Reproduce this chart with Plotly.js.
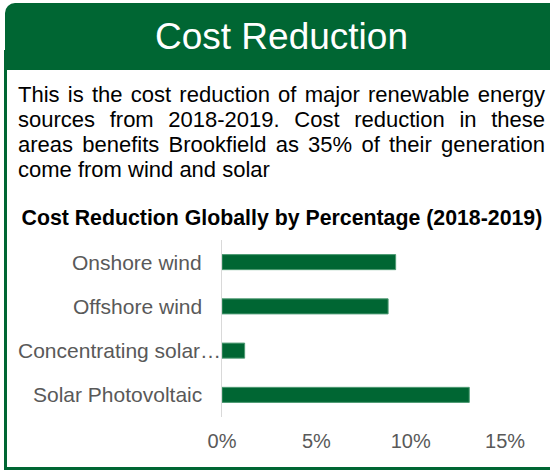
<!DOCTYPE html>
<html>
<head>
<meta charset="utf-8">
<script src="https://cdn.plot.ly/plotly-3.0.1.min.js"></script>
<style>
  html, body { margin: 0; padding: 0; background: #ffffff; }
  #wrap { position: relative; width: 550px; height: 471px; overflow: hidden; font-family: "Liberation Sans", Arial, sans-serif; }
  #frame { position: absolute; left: 4px; top: 50px; width: 560px; height: 417px; border-left: 3px solid #006633; border-bottom: 3px solid #006633; box-sizing: content-box; }
  #header { position: absolute; left: 5px; top: 3px; width: 560px; height: 67px; background: #006633; border-top-left-radius: 10px; }
  #htitle { position: absolute; left: 5px; top: 3px; width: 553px; height: 67px; line-height: 67px; text-align: center; color: #ffffff; font-size: 37px; white-space: nowrap; }
  #para { position: absolute; left: 18px; top: 82px; width: 527px; font-size: 22px; line-height: 25px; text-align: justify; color: #000000; }
  #chart { position: absolute; left: 0; top: 0; width: 550px; height: 471px; }
</style>
</head>
<body>
<div id="wrap">
  <div id="frame"></div>
  <div id="header"></div>
  <div id="htitle">Cost Reduction</div>
  <div id="para">This is the cost reduction of major renewable energy sources from 2018-2019. Cost reduction in these areas benefits Brookfield as 35% of their generation come from wind and solar</div>
  <div id="chart"></div>
</div>
<script>
// Data
const categories = ["Onshore wind", "Offshore wind", "Concentrating solar power", "Solar Photovoltaic"];
const categoryLabels = ["Onshore wind", "Offshore wind", "Concentrating solar\u2026", "Solar Photovoltaic"];
const costReduction = [0.092, 0.088, 0.012, 0.131];
const xTickValues = [0, 0.05, 0.10, 0.15];
const xTickLabels = ["0%", "5%", "10%", "15%"];
const chartTitle = "Cost Reduction Globally by Percentage (2018-2019)";

const green = "#006633";
const grey = "#595959";
const fontFam = '"Liberation Sans", Arial, sans-serif';

const trace = {
  type: "bar",
  orientation: "h",
  y: categories,
  x: costReduction,
  marker: { color: green, line: { color: "#4d9a73", width: 1 } },
  hoverinfo: "skip"
};

const annotations = categories.map((c, i) => ({
  xref: "x", yref: "y",
  x: 0, y: c,
  text: categoryLabels[i],
  showarrow: false,
  xanchor: "right", yanchor: "middle",
  xshift: categoryLabels[i].endsWith("\u2026") ? 1 : -18,
  font: { family: fontFam, size: 21, color: grey }
}));

const layout = {
  width: 550, height: 471,
  margin: { l: 222, r: 26, t: 240, b: 54, pad: 0 },
  paper_bgcolor: "rgba(0,0,0,0)",
  plot_bgcolor: "rgba(0,0,0,0)",
  showlegend: false,
  bargap: 0.66,
  title: {
    text: "<b>" + chartTitle + "</b>",
    x: 21.5 / 550, xanchor: "left", xref: "container",
    y: 1 - 217.5 / 471, yanchor: "middle", yref: "container",
    font: { family: fontFam, size: 21.3, color: "#000000" }
  },
  xaxis: {
    range: [0, 0.16],
    tickvals: xTickValues,
    ticktext: xTickLabels,
    showgrid: false, zeroline: false, showline: false,
    ticks: "",
    ticklabelstandoff: 10,
    tickfont: { family: fontFam, size: 20, color: grey },
    fixedrange: true
  },
  yaxis: {
    type: "category",
    categoryorder: "array",
    categoryarray: categories,
    autorange: "reversed",
    showticklabels: false,
    showgrid: false, zeroline: false,
    showline: true, linecolor: "#d9d9d9", linewidth: 1.5,
    ticks: "",
    fixedrange: true
  },
  annotations: annotations
};

Plotly.newPlot("chart", [trace], layout, { displayModeBar: false, staticPlot: true });
</script>
</body>
</html>
